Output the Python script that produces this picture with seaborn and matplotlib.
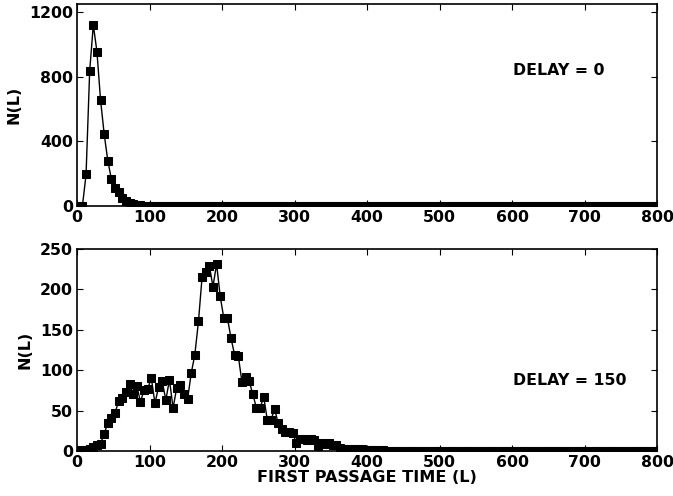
import numpy as np
import pandas as pd
import matplotlib
matplotlib.use("Agg")
import matplotlib.pyplot as plt
import seaborn as sns

# bin centres of the first passage time histogram (width 5)
first_passage = np.arange(2.5, 800, 5)

# delay = 0 : counts (rest are zero)
n_delay0_head = [0, 0, 195, 835, 1120, 955, 655, 445, 280, 165,
                 110, 84, 50, 30, 18, 11, 7, 4, 3, 2, 1]
n_delay0 = n_delay0_head + [0] * (len(first_passage) - len(n_delay0_head))

# delay = 150 : counts (rest are zero)
n_delay150_head = [0, 1, 1, 3, 5, 7, 9, 21, 35, 41,
                   47, 62, 65, 73, 83, 71, 80, 61, 75, 77,
                   90, 59, 79, 86, 63, 88, 53, 78, 82, 70,
                   64, 96, 119, 160, 215, 221, 229, 203, 231, 191,
                   164, 164, 139, 118, 117, 85, 92, 86, 70, 53,
                   53, 67, 38, 38, 52, 34, 27, 24, 24, 22,
                   10, 15, 15, 14, 15, 14, 6, 10, 9, 10,
                   8, 7, 4, 3, 2, 3, 2, 2, 2, 1,
                   1, 1, 1, 1, 1]
n_delay150 = n_delay150_head + [0] * (len(first_passage) - len(n_delay150_head))

df0 = pd.DataFrame({"L": first_passage, "N": n_delay0})
df150 = pd.DataFrame({"L": first_passage, "N": n_delay150})

sns.set_style("ticks", {
    "xtick.direction": "in", "ytick.direction": "in",
    "xtick.top": True, "ytick.right": True,
    "axes.edgecolor": "black",
    "text.color": "black", "axes.labelcolor": "black",
    "xtick.color": "black", "ytick.color": "black",
})
plt.rcParams["font.family"] = ["DejaVu Sans"]
plt.rcParams["font.weight"] = "bold"
plt.rcParams["axes.labelweight"] = "bold"

fig = plt.figure(figsize=(6.73, 4.96), dpi=100)
ax1 = fig.add_axes([0.1144, 0.5847, 0.862, 0.4073])
ax2 = fig.add_axes([0.1144, 0.0907, 0.862, 0.408])

for ax, d in ((ax1, df0), (ax2, df150)):
    sns.lineplot(data=d, x="L", y="N", ax=ax, color="black", linewidth=1,
                 marker="s", markersize=6, markeredgecolor="black")
    ax.set_xlim(0, 800)
    ax.set_xticks(range(0, 801, 100))
    ax.tick_params(axis="both", labelsize=11.3, length=4, width=0.8, pad=3,
                   colors="black")
    for lab in ax.get_xticklabels() + ax.get_yticklabels():
        lab.set_fontweight("bold")
    for sp in ax.spines.values():
        sp.set_linewidth(1.2)
        sp.set_color("black")
    ax.set_ylabel("N(L)", fontsize=11.5, fontweight="bold", labelpad=5, color="black")
    ax.set_xlabel("")

ax1.set_ylim(0, 1250)
ax1.set_yticks([0, 400, 800, 1200])
ax2.set_ylim(0, 250)
ax2.set_yticks(range(0, 251, 50))

ax1.text(601, 837, "DELAY = 0", fontsize=11.3, fontweight="bold", va="center", color="black")
ax2.text(601, 87, "DELAY = 150", fontsize=11.3, fontweight="bold", va="center", color="black")
ax2.set_xlabel("FIRST PASSAGE TIME (L)", fontsize=11.6, fontweight="bold", labelpad=0, color="black")

fig.savefig("out.png", dpi=100)
